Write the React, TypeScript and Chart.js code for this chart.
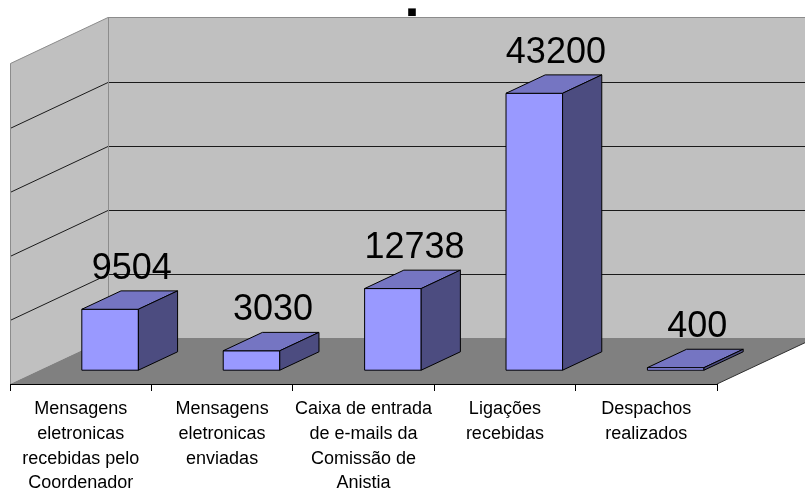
import React, { useEffect, useRef } from 'react';
import { Chart, registerables } from 'chart.js';

Chart.register(...registerables);

// ---- data ----
const categories: string[][] = [
  ['Mensagens', 'eletronicas', 'recebidas pelo', 'Coordenador'],
  ['Mensagens', 'eletronicas', 'enviadas'],
  ['Caixa de entrada', 'de e-mails da', 'Comissão de', 'Anistia'],
  ['Ligações', 'recebidas'],
  ['Despachos', 'realizados'],
];
const values: number[] = [9504, 3030, 12738, 43200, 400];
const yMin = 0;
const yMax = 50000;
const yStep = 10000;
const titleText = '■';

// ---- 3D projection (oblique) ----
const DEPTH_X = 98;
const DEPTH_Y = -46;
const BAR_Z0 = 0.3;
const BAR_Z1 = 0.7;

const FONT = '"Liberation Sans", Arial, Helvetica, sans-serif';

function P(x: number, y: number, z: number): [number, number] {
  return [x + DEPTH_X * z, y + DEPTH_Y * z];
}

function poly(ctx: CanvasRenderingContext2D, pts: [number, number][], fill?: string, stroke?: string, lw = 1) {
  ctx.beginPath();
  pts.forEach((p, i) => (i === 0 ? ctx.moveTo(p[0], p[1]) : ctx.lineTo(p[0], p[1])));
  ctx.closePath();
  if (fill) {
    ctx.fillStyle = fill;
    ctx.fill();
  }
  if (stroke) {
    ctx.strokeStyle = stroke;
    ctx.lineWidth = lw;
    ctx.stroke();
  }
}

function line(ctx: CanvasRenderingContext2D, pts: [number, number][], color: string, lw = 1) {
  ctx.beginPath();
  pts.forEach((p, i) => (i === 0 ? ctx.moveTo(p[0], p[1]) : ctx.lineTo(p[0], p[1])));
  ctx.strokeStyle = color;
  ctx.lineWidth = lw;
  ctx.stroke();
}

const threeD = {
  id: 'threeD',
  beforeDraw(chart: any) {
    const ctx: CanvasRenderingContext2D = chart.ctx;
    const { left, right, top, bottom } = chart.chartArea;
    const ys = chart.scales.y;
    ctx.save();
    // back wall
    poly(ctx, [P(left, top, 1), P(right, top, 1), P(right, bottom, 1), P(left, bottom, 1)], '#C0C0C0');
    // left wall
    poly(ctx, [P(left, top, 0), P(left, top, 1), P(left, bottom, 1), P(left, bottom, 0)], '#C0C0C0');
    // floor
    poly(ctx, [P(left, bottom, 0), P(right, bottom, 0), P(right, bottom, 1), P(left, bottom, 1)], '#808080');
    line(ctx, [P(right, bottom, 0), P(right, bottom, 1)], '#303030');
    // gridlines
    ys.ticks.forEach((t: any) => {
      const v = t.value;
      if (v <= yMin || v >= yMax) return;
      const y = Math.round(ys.getPixelForValue(v)) + 0.5;
      line(ctx, [P(left, y, 0), P(left, y, 1), P(right, y, 1)], '#1A1A1A');
    });
    // wall edges
    line(ctx, [P(left + 0.5, bottom, 0), P(left + 0.5, top, 0), P(left, top, 1), P(right, top, 1)], '#8C8C8C');
    line(ctx, [P(left + 0.5, top, 1), P(left + 0.5, bottom, 1)], '#8C8C8C');
    ctx.restore();
  },
  afterDatasetsDraw(chart: any) {
    const ctx: CanvasRenderingContext2D = chart.ctx;
    const meta = chart.getDatasetMeta(0);
    ctx.save();
    ctx.lineJoin = 'round';
    meta.data.forEach((el: any, i: number) => {
      const { x, y, base, width } = el.getProps(['x', 'y', 'base', 'width'], true);
      const x0 = x - width / 2;
      const x1 = x + width / 2;
      // front
      poly(ctx, [P(x0, y, BAR_Z0), P(x1, y, BAR_Z0), P(x1, base, BAR_Z0), P(x0, base, BAR_Z0)], '#9999FF', '#000000');
      // top
      poly(ctx, [P(x0, y, BAR_Z0), P(x1, y, BAR_Z0), P(x1, y, BAR_Z1), P(x0, y, BAR_Z1)], '#7575C2', '#000000');
      // side
      poly(ctx, [P(x1, y, BAR_Z0), P(x1, base, BAR_Z0), P(x1, base, BAR_Z1), P(x1, y, BAR_Z1)], '#4C4C80', '#000000');
      // value label
      const lx = (P(x0, y, BAR_Z0)[0] + P(x1, y, BAR_Z1)[0]) / 2 + 2;
      const ly = P(x0, y, BAR_Z1)[1] - 12;
      ctx.fillStyle = '#000000';
      ctx.font = `36px ${FONT}`;
      ctx.textAlign = 'center';
      ctx.textBaseline = 'alphabetic';
      ctx.fillText(String(values[i]), lx, ly);
    });
    ctx.restore();
  },
  afterDraw(chart: any) {
    const ctx: CanvasRenderingContext2D = chart.ctx;
    ctx.save();
    ctx.fillStyle = '#000000';
    ctx.font = 'bold 10px "DejaVu Sans", sans-serif';
    ctx.textAlign = 'center';
    ctx.textBaseline = 'middle';
    ctx.fillText(titleText, 412, 12);
    ctx.restore();
  },
};

export default function App() {
  const ref = useRef<HTMLCanvasElement | null>(null);

  useEffect(() => {
    document.body.style.margin = '0';
    const canvas = ref.current;
    if (!canvas) return;
    const chart = new Chart(canvas, {
      type: 'bar',
      data: {
        labels: categories,
        datasets: [
          {
            data: values,
            backgroundColor: 'rgba(0,0,0,0)',
            borderWidth: 0,
            barPercentage: 0.4,
            categoryPercentage: 1,
          },
        ],
      },
      options: {
        responsive: false,
        animation: false,
        devicePixelRatio: 1,
        layout: { padding: { left: 10, right: 88, top: 63.5, bottom: 0 } },
        plugins: {
          legend: { display: false },
          tooltip: { enabled: false },
          title: { display: false },
        },
        scales: {
          x: {
            offset: true,
            grid: {
              display: true,
              drawOnChartArea: false,
              drawTicks: true,
              tickLength: 7,
              color: '#000000',
              offset: true,
            },
            border: { display: true, color: '#000000', width: 1 },
            ticks: {
              color: '#000000',
              padding: 6,
              maxRotation: 0,
              autoSkip: false,
              font: { family: FONT, size: 18, lineHeight: 1.37 },
            },
            afterFit: (scale: any) => {
              scale.height = 104;
            },
          },
          y: {
            display: false,
            min: yMin,
            max: yMax,
            ticks: { stepSize: yStep },
          },
        },
      },
      plugins: [threeD],
    });
    return () => chart.destroy();
  }, []);

  return (
    <div style={{ width: 805, height: 488, background: '#ffffff' }}>
      <canvas ref={ref} width={805} height={488} style={{ display: 'block' }} />
    </div>
  );
}
